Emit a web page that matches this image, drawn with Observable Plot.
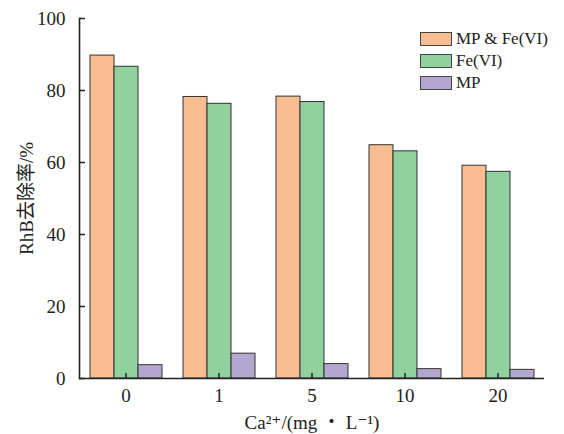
<!DOCTYPE html>
<html><head><meta charset="utf-8">
<script src="https://cdn.jsdelivr.net/npm/d3@7"></script>
<script src="https://cdn.jsdelivr.net/npm/@observablehq/plot@0.6"></script>
<style>
body{margin:0;background:#fff;}
#wrap{position:relative;width:564px;height:434px;}
.legend{position:absolute;left:420px;top:28px;font-family:"Liberation Serif","DejaVu Serif",serif;font-size:17px;color:#222;line-height:22px;}
.legend .row{display:flex;align-items:center;height:22px;}
.legend .sw{width:30px;height:12px;border:1.2px solid #444;margin-right:4px;box-sizing:content-box;}
</style></head><body><div id="wrap"></div>
<script>
const categories = ["0", "1", "5", "10", "20"];
const series = ["MP & Fe(VI)", "Fe(VI)", "MP"];
const mpFe = [89.7, 78.2, 78.3, 64.8, 59.1];
const fe = [86.6, 76.3, 76.8, 63.1, 57.4];
const mp = [3.7, 6.9, 4.0, 2.6, 2.4];
const colors = ["#f8be91", "#90d19e", "#b3a7cf"];
const yTicks = [0, 20, 40, 60, 80, 100];
const yLabel = "RhB去除率/%";
const xLabel = "Ca²⁺/(mg ・ L⁻¹)";

const values = [mpFe, fe, mp];
const rows = [];
categories.forEach((c, i) => series.forEach((s, j) => rows.push({cat: c, series: s, value: values[j][i]})));

const plot = Plot.plot({
  width: 564, height: 434,
  marginLeft: 77, marginRight: 19, marginTop: 18, marginBottom: 56,
  style: {fontFamily: '"Liberation Serif", "DejaVu Serif", "Noto Sans CJK SC", serif', fontSize: "19px", color: "#222", background: "transparent"},
  fx: {domain: categories, paddingInner: 0, paddingOuter: 0, label: null},
  x: {domain: series, axis: null, paddingInner: 0, paddingOuter: 0.372},
  y: {domain: [0, 100], label: null},
  color: {domain: series, range: colors},
  marks: [
    Plot.barY(rows, {fx: "cat", x: "series", y: "value", fill: "series", stroke: "#333", strokeWidth: 1}),
    Plot.ruleY([0], {stroke: "#222", strokeWidth: 1.6}),
    Plot.frame({anchor: "left", facetAnchor: "left", stroke: "#222", strokeWidth: 1.6}),
    Plot.axisY(yTicks, {anchor: "left", tickSize: 6, dx: 6, tickFormat: () => "", label: null, stroke: "#222", strokeWidth: 1.5}),
    Plot.axisY(yTicks, {anchor: "left", tickSize: 0, tickPadding: 14, label: yLabel, labelAnchor: "center", labelArrow: "none", labelOffset: 60, fontSize: 19}),
    Plot.axisFx({anchor: "bottom", tickSize: 5, dy: -5, tickFormat: () => "", label: null, stroke: "#222", strokeWidth: 1.5}),
    Plot.axisFx({anchor: "bottom", tickSize: 0, tickPadding: 10, label: xLabel, labelAnchor: "center", labelArrow: "none", labelOffset: 50, fontSize: 19})
  ]
});
const wrap = document.getElementById("wrap");
wrap.appendChild(plot);
const leg = document.createElement("div");
leg.className = "legend";
series.forEach((s, j) => {
  const r = document.createElement("div"); r.className = "row";
  const sw = document.createElement("span"); sw.className = "sw"; sw.style.background = colors[j];
  const t = document.createElement("span"); t.textContent = s;
  r.appendChild(sw); r.appendChild(t); leg.appendChild(r);
});
wrap.appendChild(leg);
</script></body></html>
